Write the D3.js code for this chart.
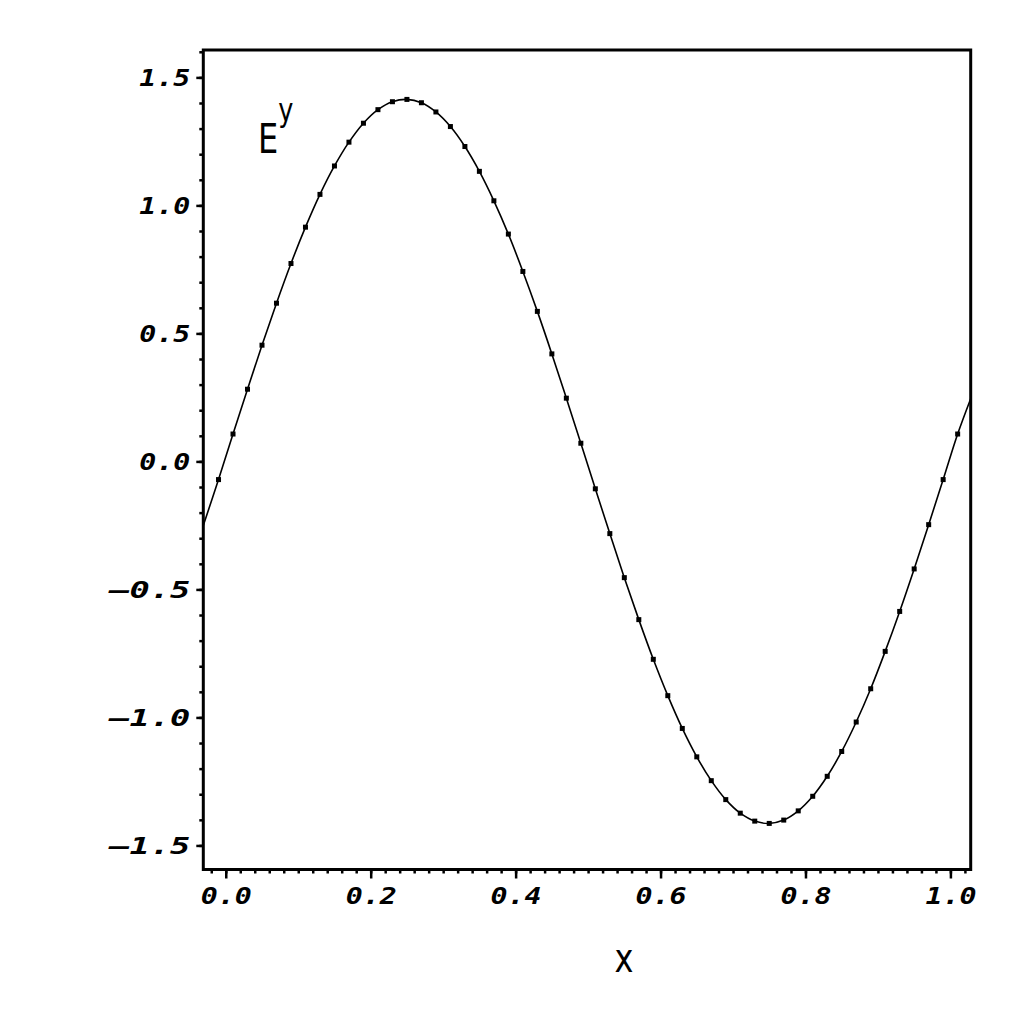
<!DOCTYPE html>
<html>
<head>
<meta charset="utf-8">
<script src="https://cdn.jsdelivr.net/npm/d3@7"></script>
<style>
  body { margin: 0; background: #ffffff; }
  .tick_label { font-family: "DejaVu Sans Mono", "Liberation Mono", monospace; font-weight: bold; font-style: italic; font-size: 23px; fill: #000000; }
  .axis_title { font-family: "DejaVu Sans", sans-serif; fill: #000000; }
</style>
</head>
<body>
<div id="chart_container"></div>
<script>
let sample_x = [
  -0.01, 0.01, 0.03, 0.05, 0.07, 0.09, 0.11, 0.13, 0.15, 0.17,
  0.19, 0.21, 0.23, 0.25, 0.27, 0.29, 0.31, 0.33, 0.35, 0.37,
  0.39, 0.41, 0.43, 0.45, 0.47, 0.49, 0.51, 0.53, 0.55, 0.57,
  0.59, 0.61, 0.63, 0.65, 0.67, 0.69, 0.71, 0.73, 0.75, 0.77,
  0.79, 0.81, 0.83, 0.85, 0.87, 0.89, 0.91, 0.93, 0.95, 0.97,
  0.99, 1.01
];
let sample_ey = [
  -0.071, 0.107, 0.282, 0.454, 0.618, 0.773, 0.915, 1.043, 1.154, 1.247,
  1.321, 1.374, 1.405, 1.414, 1.401, 1.365, 1.308, 1.230, 1.133, 1.018,
  0.888, 0.742, 0.586, 0.420, 0.247, 0.071, -0.107, -0.282, -0.454, -0.618,
  -0.773, -0.915, -1.043, -1.154, -1.247, -1.321, -1.374, -1.405, -1.414, -1.401,
  -1.365, -1.308, -1.230, -1.133, -1.018, -0.888, -0.742, -0.586, -0.420, -0.247,
  -0.071, 0.107
];

// where the solid curve meets the left and right frame
let edge_x = [-0.031, 1.028];
let edge_ey = [-0.25, 0.245];

let x_major_ticks = [0.0, 0.2, 0.4, 0.6, 0.8, 1.0];
let x_minor_ticks = d3.range(-0.02, 1.03, 0.02);
let y_major_ticks = [-1.5, -1.0, -0.5, 0.0, 0.5, 1.0, 1.5];
let y_minor_ticks = d3.range(-1.5, 1.65, 0.1);

let x_domain = [-0.031, 1.028];
let y_domain = [-1.594, 1.607];

let frame = {
  "left": 203.3,
  "right": 970.7,
  "top": 50,
  "bottom": 869.5
};

let label_text = function hst_label_text(d)
{
  return (d.toFixed(1).replace("-", "\u2013"));
}

// the original's labels are a wide, spaced-out mono face
let label_width = function hst_label_width(d)
{
  return (d < 0 ? 81 : 51);
}

let draw_chart = function hst_draw_chart(container_id)
{
  let svg = d3.select("#" + container_id)
    .append("svg")
      .attr("width", 1024)
      .attr("height", 1024)
      .attr("xmlns", "http://www.w3.org/2000/svg");

  svg.append("rect")
    .attr("width", 1024)
    .attr("height", 1024)
    .attr("fill", "#ffffff");

  let x_scale = d3.scaleLinear()
                  .domain(x_domain)
                  .range([frame.left, frame.right]);

  let y_scale = d3.scaleLinear()
                  .domain(y_domain)
                  .range([frame.bottom, frame.top]);

  // minor ticks first, majors on top
  let x_minor_axis = d3.axisBottom(x_scale)
                       .tickValues(x_minor_ticks)
                       .tickSize(4)
                       .tickFormat("");
  let x_major_axis = d3.axisBottom(x_scale)
                       .tickValues(x_major_ticks)
                       .tickSize(9)
                       .tickFormat(label_text);
  let y_minor_axis = d3.axisLeft(y_scale)
                       .tickValues(y_minor_ticks)
                       .tickSize(4)
                       .tickFormat("");
  let y_major_axis = d3.axisLeft(y_scale)
                       .tickValues(y_major_ticks)
                       .tickSize(7)
                       .tickPadding(6)
                       .tickFormat(label_text);

  let x_group = svg.append("g")
    .attr("transform", "translate(0," + frame.bottom + ")");
  x_group.append("g").call(x_minor_axis);
  x_group.append("g").attr("class", "x_major").call(x_major_axis);

  let y_group = svg.append("g")
    .attr("transform", "translate(" + frame.left + ",0)");
  y_group.append("g").call(y_minor_axis);
  y_group.append("g").attr("class", "y_major").call(y_major_axis);

  svg.selectAll(".domain").remove();
  svg.selectAll(".tick line")
    .attr("stroke", "#000000")
    .attr("stroke-width", 2.5);

  svg.selectAll(".x_major .tick text")
    .attr("class", "tick_label")
    .attr("y", 34)
    .attr("dy", 0)
    .attr("text-anchor", "middle")
    .attr("font-family", null)
    .attr("font-size", null)
    .attr("textLength", label_width)
    .attr("lengthAdjust", "spacingAndGlyphs");

  svg.selectAll(".y_major .tick text")
    .attr("class", "tick_label")
    .attr("dy", "0.36em")
    .attr("font-family", null)
    .attr("font-size", null)
    .attr("textLength", label_width)
    .attr("lengthAdjust", "spacingAndGlyphs");

  // the frame
  svg.append("rect")
    .attr("x", frame.left)
    .attr("y", frame.top)
    .attr("width", frame.right - frame.left)
    .attr("height", frame.bottom - frame.top)
    .attr("fill", "none")
    .attr("stroke", "#000000")
    .attr("stroke-width", 3);

  let curve_points = [[edge_x[0], edge_ey[0]]]
    .concat(sample_x.map(function (d, i) { return [d, sample_ey[i]]; }))
    .concat([[edge_x[1], edge_ey[1]]]);

  let line_gen = d3.line()
                   .x(function (d) { return x_scale(d[0]); })
                   .y(function (d) { return y_scale(d[1]); })
                   .curve(d3.curveCatmullRom.alpha(0.5));

  svg.append("path")
    .datum(curve_points)
    .attr("d", line_gen)
    .attr("fill", "none")
    .attr("stroke", "#000000")
    .attr("stroke-width", 1.6);

  svg.append("g")
    .selectAll("rect")
    .data(sample_x)
    .join("rect")
      .attr("x", function (d) { return x_scale(d) - 2.5; })
      .attr("y", function (d, i) { return y_scale(sample_ey[i]) - 2.5; })
      .attr("width", 5)
      .attr("height", 5)
      .attr("fill", "#000000");

  // axis titles, squeezed a little like the original's narrow sans
  svg.append("text")
    .attr("class", "axis_title")
    .attr("transform", "translate(624,972) scale(0.8,1)")
    .attr("text-anchor", "middle")
    .attr("font-size", 40)
    .text("x");

  let ey_label = svg.append("text")
    .attr("class", "axis_title")
    .attr("transform", "translate(258,153) scale(0.8,1)")
    .attr("font-size", 40);
  ey_label.append("tspan").text("E");
  ey_label.append("tspan")
    .attr("dx", 0)
    .attr("dy", -32)
    .attr("font-size", 32)
    .text("y");

  return (null);
}

draw_chart("chart_container");
</script>
</body>
</html>
